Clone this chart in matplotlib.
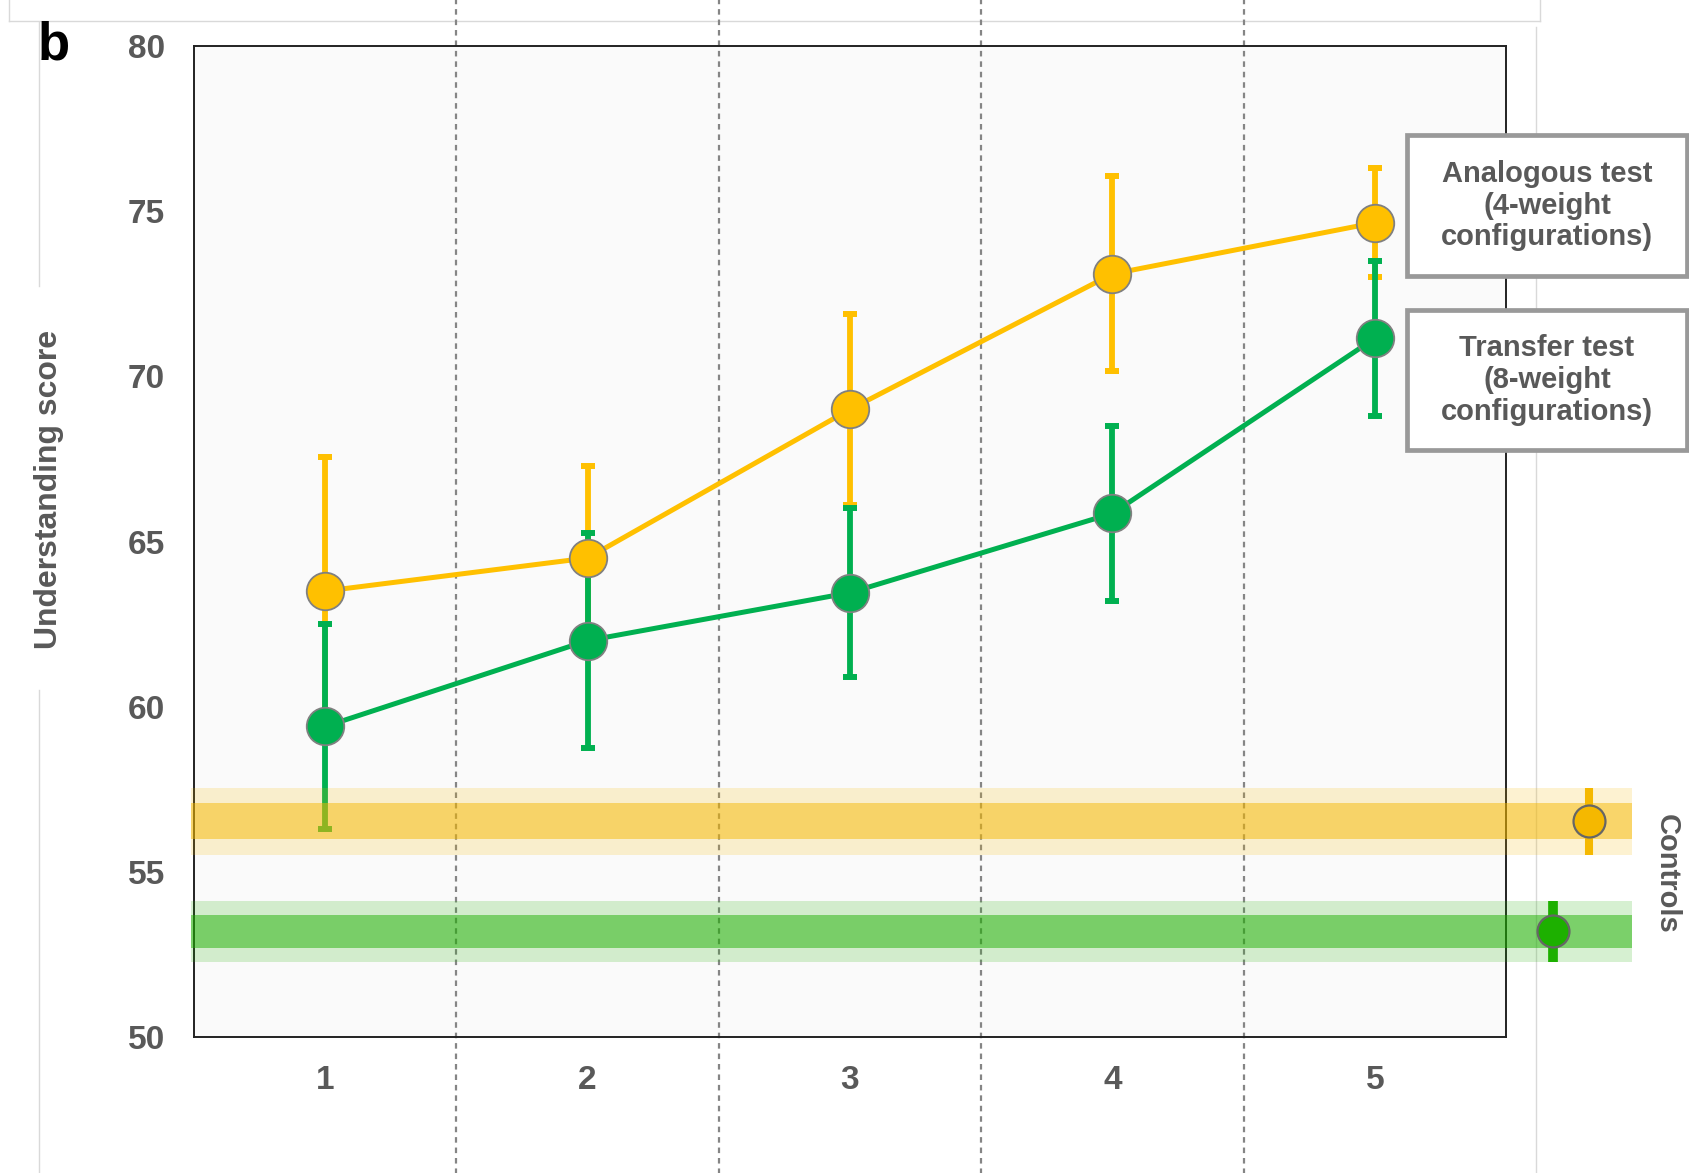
import numpy as np
import matplotlib
matplotlib.use("Agg")
import matplotlib.pyplot as plt
from matplotlib.patches import Rectangle
from matplotlib.lines import Line2D

plt.rcParams['font.family'] = ['Liberation Sans', 'DejaVu Sans']

# data
sessions = [1, 2, 3, 4, 5]
analogous_mean = [63.5, 64.5, 69.0, 73.1, 74.65]
analogous_err = [4.05, 2.8, 2.9, 2.95, 1.65]
transfer_mean = [59.4, 62.0, 63.45, 65.85, 71.15]
transfer_err = [3.1, 3.25, 2.55, 2.65, 2.35]

control_analogous = 56.53
control_analogous_outer = 1.02
control_analogous_inner = 0.55
control_transfer = 53.2
control_transfer_outer = 0.92
control_transfer_inner = 0.5

yticks = [50, 55, 60, 65, 70, 75, 80]
legend_texts = ['Analogous test\n(4-weight\nconfigurations)',
                'Transfer test\n(8-weight\nconfigurations)']

ORANGE = '#FFC000'
GREEN = '#00B050'
CTRL_ORANGE = '#F5B800'
CTRL_GREEN = '#1DB000'
TEXT = '#595959'

W, H = 1690, 1173
fig = plt.figure(figsize=(W / 100, H / 100), dpi=100)
ax = fig.add_axes([194 / W, 1 - 1037 / H, 1312 / W, 991 / H])
ax.set_facecolor('#FAFAFA')

# series with error bars
for mean, err, col in [(analogous_mean, analogous_err, ORANGE),
                       (transfer_mean, transfer_err, GREEN)]:
    ax.errorbar(sessions, mean, yerr=err, fmt='none', ecolor=col,
                elinewidth=4.2, capsize=4.7, capthick=4.3, zorder=3)
for mean, col in [(analogous_mean, ORANGE), (transfer_mean, GREEN)]:
    ax.plot(sessions, mean, color=col, lw=3.6, zorder=4)
    ax.plot(sessions, mean, 'o', ms=27, mfc=col, mec='#808080', mew=1.3,
            zorder=5)

# control bands (extend past the frame)
band_x = [0.49, 5.98]
for c, outer, inner, col in [
        (control_analogous, control_analogous_outer, control_analogous_inner, CTRL_ORANGE),
        (control_transfer, control_transfer_outer, control_transfer_inner, CTRL_GREEN)]:
    fb = ax.fill_between(band_x, c - outer, c + outer, color=col, alpha=0.18,
                         lw=0, zorder=6)
    fb.set_clip_on(False)
    fb = ax.fill_between(band_x, c - inner, c + inner, color=col, alpha=0.49,
                         lw=0, zorder=6)
    fb.set_clip_on(False)

# control points
for xc, c, err, col, ew in [(5.815, control_analogous, control_analogous_outer, CTRL_ORANGE, 5.8),
                            (5.68, control_transfer, control_transfer_outer, CTRL_GREEN, 7.0)]:
    eb = ax.errorbar([xc], [c], yerr=[err], fmt='o', ms=23, mfc=col,
                     mec='#666666', mew=1.6, ecolor=col, elinewidth=ew,
                     capsize=0, zorder=7)
    for a in eb.get_children():
        a.set_clip_on(False)
    eb[0].set_clip_on(False)

# dashed separators spanning the whole figure height
for xv in [1.5, 2.5, 3.5, 4.5]:
    ax.axvline(xv, ymin=-0.14, ymax=1.05, color='#858585', lw=1.6,
               ls=(0, (2.5, 2.2)), clip_on=False, zorder=2)

ax.set_xlim(0.5, 5.5)
ax.set_ylim(50, 80)
ax.set_xticks(sessions)
ax.set_yticks(yticks)
ax.tick_params(length=0, labelsize=24, labelcolor=TEXT)
ax.tick_params(axis='x', pad=20)
ax.tick_params(axis='y', pad=21)
for lab in ax.get_xticklabels() + ax.get_yticklabels():
    lab.set_fontweight('bold')
for sp in ax.spines.values():
    sp.set_color('#222222')
    sp.set_linewidth(1.4)

# labels
fig.text(49 / W, 1 - 489 / H, 'Understanding score', rotation=90,
         ha='center', va='center', fontsize=23, fontweight='bold', color=TEXT)
fig.text(1667 / W, 1 - 874 / H, 'Controls', rotation=-90, ha='center',
         va='center', fontsize=21, fontweight='bold', color=TEXT)
fig.text(38 / W, 1 - 60 / H, 'b', ha='left', va='baseline', fontsize=38,
         fontweight='bold', color='black')

# legend boxes
for (top, bot), txt in zip([(135, 276), (310, 450)], legend_texts):
    fig.add_artist(Rectangle((1407 / W, 1 - bot / H), 280 / W, (bot - top) / H,
                             transform=fig.transFigure, facecolor='white',
                             edgecolor='#999999', lw=3.4, zorder=3))
    fig.text(1547 / W, 1 - (top + bot) / 2 / H, txt, ha='center', va='center',
             fontsize=21, fontweight='bold', color=TEXT, linespacing=1.17,
             zorder=4)

# light panel frame lines
frame = [([9, 9], [0, 21]), ([9, 1540], [21, 21]), ([1540, 1540], [0, 21]),
         ([39, 39], [22, 286]), ([39, 39], [690, 1173]),
         ([1536, 1536], [27, 1173])]
for xs, ys in frame:
    fig.add_artist(Line2D([x / W for x in xs], [1 - y / H for y in ys],
                          transform=fig.transFigure, color='#D9D9D9',
                          lw=1.0, zorder=-1))

fig.savefig('out.png', dpi=100, facecolor='white')
